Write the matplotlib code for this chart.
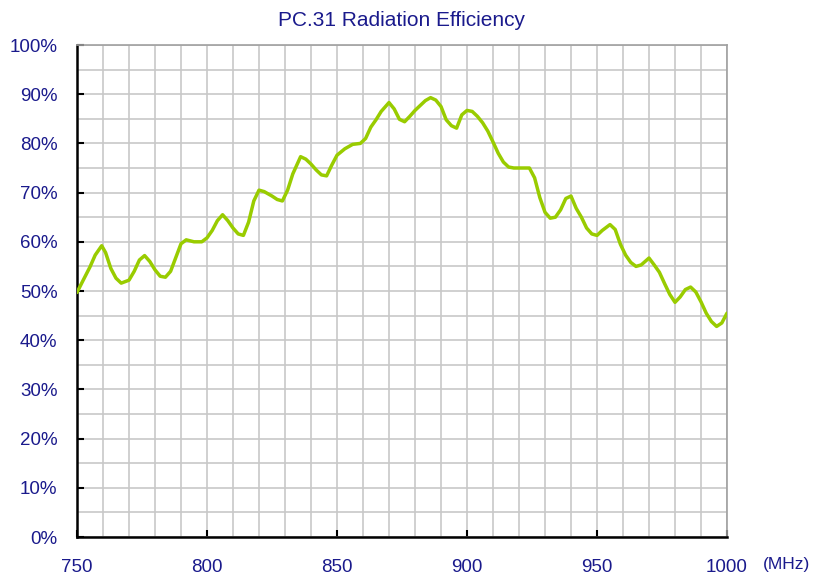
import matplotlib
matplotlib.use("Agg")
import matplotlib.pyplot as plt
from matplotlib.ticker import MultipleLocator, FuncFormatter

plt.rcParams['font.family'] = ['Liberation Sans', 'DejaVu Sans']

# data (MHz, %)
freq = [750, 752, 755, 757, 759.5, 761, 763, 765, 767, 770, 772, 774, 776, 778,
        780, 782, 784, 786, 788, 790, 792, 795, 798, 800, 802, 804, 806, 808,
        810, 812, 814, 816, 818, 820, 822, 825, 827, 829, 831, 833, 836, 838,
        840, 842, 844, 846, 848, 850, 853, 856, 859, 861, 863, 865, 867, 870,
        872, 874, 876, 878, 880, 882, 884, 886, 888, 890, 892, 894, 896, 898,
        900, 902, 904, 906, 908, 910, 912, 914, 916, 918, 921, 924, 926, 928,
        930, 932, 934, 936, 938, 940, 942, 944, 946, 948, 950, 952, 955, 957,
        959, 961, 963, 965, 967, 970, 972, 974, 976, 978, 980, 982, 984, 986,
        988, 990, 992, 994, 996, 998, 1000]
efficiency = [49.7, 51.8, 54.9, 57.3, 59.2, 57.8, 54.6, 52.6, 51.6, 52.2, 54.0,
              56.3, 57.2, 56.0, 54.3, 53.0, 52.8, 54.0, 56.8, 59.6, 60.4, 60.0,
              60.0, 60.8, 62.3, 64.3, 65.5, 64.3, 62.8, 61.6, 61.3, 64.0, 68.3,
              70.5, 70.2, 69.3, 68.6, 68.3, 70.5, 73.8, 77.3, 76.8, 75.8, 74.6,
              73.6, 73.4, 75.6, 77.6, 78.9, 79.8, 80.0, 81.0, 83.3, 84.8, 86.5,
              88.3, 87.0, 84.9, 84.4, 85.5, 86.7, 87.7, 88.7, 89.3, 88.8, 87.5,
              84.8, 83.6, 83.1, 85.8, 86.7, 86.5, 85.5, 84.2, 82.5, 80.3, 78.0,
              76.2, 75.2, 75.0, 75.0, 75.0, 73.0, 69.0, 66.0, 64.8, 65.0, 66.5,
              68.8, 69.3, 66.8, 65.0, 62.8, 61.6, 61.3, 62.3, 63.5, 62.5, 59.5,
              57.3, 55.8, 55.0, 55.3, 56.7, 55.3, 53.8, 51.5, 49.3, 47.7, 48.8,
              50.3, 50.8, 49.8, 47.8, 45.5, 43.8, 42.8, 43.5, 45.5]

text_color = '#1a1a8c'

fig = plt.figure(figsize=(8.17, 5.82), dpi=100)
ax = fig.add_axes([77 / 817, 45 / 582, 650 / 817, 492 / 582])

ax.plot(freq, efficiency, color='#99cc00', linewidth=2.5, solid_joinstyle='round',
        solid_capstyle='round', zorder=3)

ax.set_xlim(750, 1000)
ax.set_ylim(0, 100)
ax.xaxis.set_major_locator(MultipleLocator(50))
ax.xaxis.set_minor_locator(MultipleLocator(10))
ax.yaxis.set_major_locator(MultipleLocator(10))
ax.yaxis.set_minor_locator(MultipleLocator(5))
ax.yaxis.set_major_formatter(FuncFormatter(lambda v, p: f"{v:.0f}%"))

ax.grid(True, which='both', color='#c8c8c8', linewidth=1.2, zorder=0)
ax.set_axisbelow(True)

ax.tick_params(axis='both', which='major', direction='in', length=5, width=1.5,
               labelsize=13.5, labelcolor=text_color)
ax.tick_params(axis='both', which='minor', length=0)
ax.tick_params(axis='x', pad=16)
ax.tick_params(axis='y', pad=14)

for side in ['left', 'bottom']:
    ax.spines[side].set_color('black')
    ax.spines[side].set_linewidth(1.8)
for side in ['top', 'right']:
    ax.spines[side].set_color('#a0a0a0')
    ax.spines[side].set_linewidth(1.2)

ax.set_title("PC.31 Radiation Efficiency", color=text_color, fontsize=15, pad=14)
fig.text(786 / 817, 1 - 564 / 582, "(MHz)", color=text_color, fontsize=12.5,
         ha='center', va='center')

fig.savefig("out.png", dpi=100)
plt.close(fig)
